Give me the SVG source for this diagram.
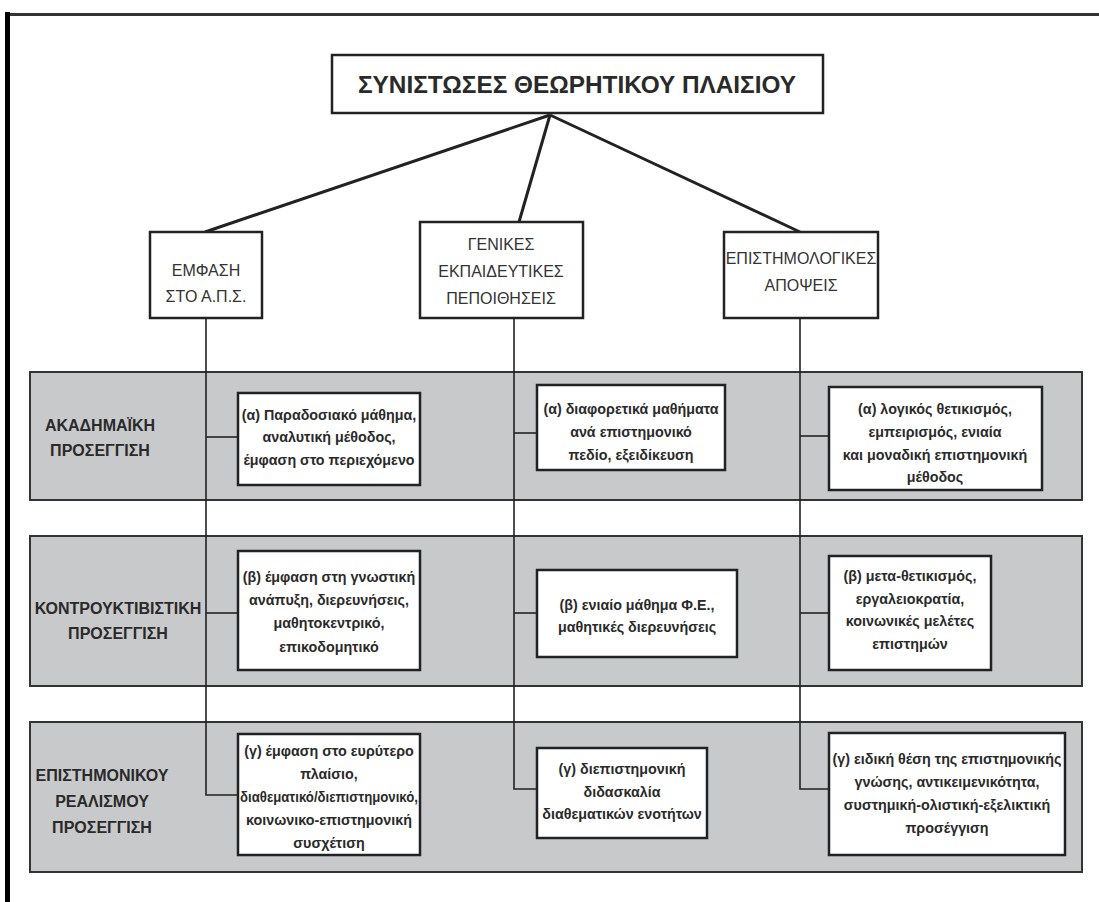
<svg xmlns="http://www.w3.org/2000/svg" width="1099" height="902" viewBox="0 0 1099 902">
<style>
.band{fill:#c8c9cb;stroke:#333;stroke-width:2}
.box{fill:#fff;stroke:#222;stroke-width:2.5}
.conn{fill:none;stroke:#222;stroke-width:1.6}
.thick{fill:none;stroke:#222;stroke-width:3}
.t{font-family:"Liberation Sans Narrow","Liberation Sans",Arial,sans-serif;fill:#2a2a2a;text-anchor:middle}
.title{font-size:23px;font-weight:bold}
.hdr{font-size:16px;font-weight:normal;fill:#333}
.lbl{font-size:16px;font-weight:bold}
.bx{font-size:14.3px;font-weight:bold}
</style>
<rect width="1099" height="902" fill="#fff"/>
<g id="frame">
<line x1="5" y1="14.5" x2="1099" y2="14.5" stroke="#333" stroke-width="3"/>
<rect x="5" y="12" width="5" height="890" fill="#000"/>
</g>
<g id="bands">
<rect id="band1" class="band" x="30" y="372" width="1052" height="128"/>
<rect id="band2" class="band" x="30" y="536" width="1052" height="150"/>
<rect id="band3" class="band" x="30" y="722" width="1052" height="150"/>
</g>
<g id="connectors">
<line class="thick" x1="550" y1="115" x2="205" y2="232"/>
<line class="thick" x1="550" y1="115" x2="519" y2="222"/>
<line class="thick" x1="550" y1="115" x2="800" y2="232"/>
<polyline class="conn" points="206,318 206,795 238,795"/>
<polyline class="conn" points="514,318 514,789 537,789"/>
<polyline class="conn" points="800,318 800,789 829,789"/>
<line class="conn" x1="206" y1="437" x2="238" y2="437"/>
<line class="conn" x1="514" y1="433" x2="537" y2="433"/>
<line class="conn" x1="800" y1="436" x2="829" y2="436"/>
<line class="conn" x1="206" y1="613" x2="238" y2="613"/>
<line class="conn" x1="514" y1="613" x2="537" y2="613"/>
<line class="conn" x1="800" y1="613" x2="829" y2="613"/>
</g>
<g id="root">
<rect class="box" x="332" y="55" width="491" height="58"/>
<text class="t title" x="577" y="93" textLength="438" lengthAdjust="spacingAndGlyphs">ΣΥΝΙΣΤΩΣΕΣ ΘΕΩΡΗΤΙΚΟΥ ΠΛΑΙΣΙΟΥ</text>
</g>
<g id="h1">
<rect class="box" x="150" y="232" width="112" height="86"/>
<text class="t hdr" x="206" y="276">ΕΜΦΑΣΗ</text>
<text class="t hdr" x="206" y="302">ΣΤΟ Α.Π.Σ.</text>
</g>
<g id="h2">
<rect class="box" x="420" y="222" width="163" height="96"/>
<text class="t hdr" x="501" y="250">ΓΕΝΙΚΕΣ</text>
<text class="t hdr" x="501" y="277">ΕΚΠΑΙΔΕΥΤΙΚΕΣ</text>
<text class="t hdr" x="501" y="304">ΠΕΠΟΙΘΗΣΕΙΣ</text>
</g>
<g id="h3">
<rect class="box" x="724" y="232" width="154" height="86"/>
<text class="t hdr" x="801" y="264">ΕΠΙΣΤΗΜΟΛΟΓΙΚΕΣ</text>
<text class="t hdr" x="801" y="291">ΑΠΟΨΕΙΣ</text>
</g>
<g id="lbl1">
<text class="t lbl" x="100" y="431">ΑΚΑΔΗΜΑΪΚΗ</text>
<text class="t lbl" x="100" y="456">ΠΡΟΣΕΓΓΙΣΗ</text>
</g>
<g id="lbl2">
<text class="t lbl" x="118" y="614">ΚΟΝΤΡΟΥΚΤΙΒΙΣΤΙΚΗ</text>
<text class="t lbl" x="118" y="639">ΠΡΟΣΕΓΓΙΣΗ</text>
</g>
<g id="lbl3">
<text class="t lbl" x="102" y="781">ΕΠΙΣΤΗΜΟΝΙΚΟΥ</text>
<text class="t lbl" x="102" y="807">ΡΕΑΛΙΣΜΟΥ</text>
<text class="t lbl" x="102" y="833">ΠΡΟΣΕΓΓΙΣΗ</text>
</g>
<g id="a1">
<rect class="box" x="238" y="393" width="182" height="92"/>
<text class="t bx" x="329" y="420">(α) Παραδοσιακό μάθημα,</text>
<text class="t bx" x="329" y="442">αναλυτική μέθοδος,</text>
<text class="t bx" x="329" y="465">έμφαση στο περιεχόμενο</text>
</g>
<g id="a2">
<rect class="box" x="537" y="385" width="188" height="85"/>
<text class="t bx" x="631" y="414">(α) διαφορετικά μαθήματα</text>
<text class="t bx" x="631" y="437">ανά επιστημονικό</text>
<text class="t bx" x="631" y="460">πεδίο, εξειδίκευση</text>
</g>
<g id="a3">
<rect class="box" x="829" y="387" width="213" height="103"/>
<text class="t bx" x="935" y="414">(α) λογικός θετικισμός,</text>
<text class="t bx" x="935" y="437">εμπειρισμός, ενιαία</text>
<text class="t bx" x="935" y="460">και μοναδική επιστημονική</text>
<text class="t bx" x="935" y="482">μέθοδος</text>
</g>
<g id="b1">
<rect class="box" x="238" y="551" width="182" height="119"/>
<text class="t bx" x="329" y="582">(β) έμφαση στη γνωστική</text>
<text class="t bx" x="329" y="605">ανάπυξη, διερευνήσεις,</text>
<text class="t bx" x="329" y="628">μαθητοκεντρικό,</text>
<text class="t bx" x="329" y="652">επικοδομητικό</text>
</g>
<g id="b2">
<rect class="box" x="537" y="570" width="200" height="87"/>
<text class="t bx" x="637" y="610">(β) ενιαίο μάθημα Φ.Ε.,</text>
<text class="t bx" x="637" y="632">μαθητικές διερευνήσεις</text>
</g>
<g id="b3">
<rect class="box" x="829" y="556" width="162" height="114"/>
<text class="t bx" x="910" y="581">(β) μετα-θετικισμός,</text>
<text class="t bx" x="910" y="604">εργαλειοκρατία,</text>
<text class="t bx" x="910" y="626">κοινωνικές μελέτες</text>
<text class="t bx" x="910" y="649">επιστημών</text>
</g>
<g id="c1">
<rect class="box" x="238" y="734" width="182" height="121"/>
<text class="t bx" x="329" y="756">(γ) έμφαση στο ευρύτερο</text>
<text class="t bx" x="329" y="779">πλαίσιο,</text>
<text class="t bx" x="329" y="802" textLength="178" lengthAdjust="spacingAndGlyphs">διαθεματικό/διεπιστημονικό,</text>
<text class="t bx" x="329" y="825">κοινωνικο-επιστημονική</text>
<text class="t bx" x="329" y="848">συσχέτιση</text>
</g>
<g id="c2">
<rect class="box" x="537" y="748" width="170" height="90"/>
<text class="t bx" x="622" y="774">(γ) διεπιστημονική</text>
<text class="t bx" x="622" y="797">διδασκαλία</text>
<text class="t bx" x="622" y="819">διαθεματικών ενοτήτων</text>
</g>
<g id="c3">
<rect class="box" x="829" y="733" width="236" height="122"/>
<text class="t bx" x="947" y="764">(γ) ειδική θέση της επιστημονικής</text>
<text class="t bx" x="947" y="787">γνώσης, αντικειμενικότητα,</text>
<text class="t bx" x="947" y="810">συστημική-ολιστική-εξελικτική</text>
<text class="t bx" x="947" y="833">προσέγγιση</text>
</g>
</svg>
